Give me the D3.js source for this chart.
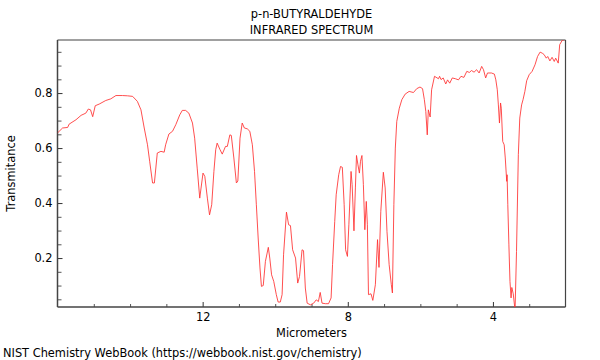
<!DOCTYPE html>
<html>
<head>
<meta charset="utf-8">
<script src="https://cdn.jsdelivr.net/npm/d3@7"></script>
<style>
  body { margin: 0; background: #fff; }
  text { font-family: "DejaVu Sans", sans-serif; fill: #000; }
</style>
</head>
<body>
<script>
// spectrum: wavelength (micrometers) and transmitance
var microns = [16.0, 15.86, 15.72, 15.68, 15.49, 15.35, 15.22, 15.15, 15.09, 15.03, 14.96, 14.85, 14.67, 14.53, 14.39, 14.21, 14.07, 13.93, 13.80, 13.70,
  13.61, 13.52, 13.46, 13.38, 13.33, 13.25, 13.15, 13.06, 13.02, 12.93, 12.83, 12.74, 12.63, 12.56, 12.47, 12.38, 12.28, 12.22, 12.15, 12.08,
  11.99, 11.94, 11.87, 11.81, 11.75, 11.69, 11.64, 11.60, 11.52, 11.46, 11.37, 11.32, 11.25, 11.21, 11.14, 11.07, 11.03, 10.97, 10.91, 10.85,
  10.77, 10.70, 10.63, 10.57, 10.52, 10.47, 10.42, 10.38, 10.33, 10.27, 10.19, 10.15, 10.10, 10.04, 9.97, 9.92, 9.86, 9.81, 9.77, 9.69,
  9.63, 9.58, 9.52, 9.44, 9.38, 9.33, 9.26, 9.22, 9.17, 9.12, 9.03, 8.94, 8.87, 8.81, 8.76, 8.71, 8.62, 8.53, 8.46, 8.42,
  8.36, 8.32, 8.25, 8.20, 8.15, 8.10, 8.06, 8.01, 7.97, 7.91, 7.88, 7.83, 7.79, 7.76, 7.72, 7.68, 7.65, 7.61, 7.57, 7.53,
  7.49, 7.46, 7.43, 7.36, 7.31, 7.24, 7.18, 7.14, 7.09, 7.02, 6.97, 6.92, 6.86, 6.80, 6.77, 6.73, 6.69, 6.65, 6.58, 6.51,
  6.42, 6.31, 6.19, 6.10, 6.01, 5.94, 5.89, 5.85, 5.81, 5.78, 5.73, 5.69, 5.61, 5.50, 5.47, 5.43, 5.37, 5.30, 5.25, 5.19,
  5.12, 5.03, 4.95, 4.88, 4.80, 4.72, 4.65, 4.59, 4.52, 4.45, 4.38, 4.31, 4.26, 4.20, 4.15, 4.04, 3.96, 3.92, 3.88, 3.85,
  3.82, 3.79, 3.77, 3.73, 3.69, 3.66, 3.62, 3.61, 3.59, 3.56, 3.53, 3.50, 3.48, 3.44, 3.39, 3.35, 3.30, 3.26, 3.21, 3.17,
  3.12, 3.07, 3.00, 2.92, 2.84, 2.77, 2.70, 2.64, 2.59, 2.53, 2.49, 2.43, 2.37, 2.31, 2.27, 2.20, 2.16, 2.09, 2.02];
var transmitance = [0.655, 0.673, 0.675, 0.687, 0.703, 0.719, 0.727, 0.742, 0.739, 0.714, 0.754, 0.760, 0.773, 0.779, 0.791, 0.791, 0.790, 0.788, 0.770, 0.739,
  0.673, 0.612, 0.552, 0.473, 0.473, 0.582, 0.588, 0.585, 0.612, 0.651, 0.661, 0.685, 0.721, 0.737, 0.737, 0.727, 0.691, 0.636, 0.527, 0.418,
  0.509, 0.497, 0.418, 0.357, 0.394, 0.515, 0.594, 0.618, 0.594, 0.578, 0.606, 0.606, 0.648, 0.646, 0.564, 0.473, 0.480, 0.636, 0.691, 0.673,
  0.670, 0.661, 0.612, 0.515, 0.394, 0.273, 0.164, 0.097, 0.100, 0.188, 0.239, 0.200, 0.139, 0.115, 0.067, 0.040, 0.040, 0.067, 0.212, 0.367,
  0.321, 0.318, 0.230, 0.200, 0.109, 0.133, 0.230, 0.227, 0.091, 0.036, 0.030, 0.036, 0.048, 0.042, 0.075, 0.036, 0.034, 0.034, 0.055, 0.176,
  0.333, 0.430, 0.503, 0.533, 0.530, 0.394, 0.230, 0.206, 0.321, 0.515, 0.467, 0.299, 0.455, 0.573, 0.539, 0.509, 0.552, 0.573, 0.467, 0.303,
  0.406, 0.321, 0.067, 0.070, 0.046, 0.103, 0.267, 0.166, 0.370, 0.512, 0.455, 0.297, 0.176, 0.103, 0.073, 0.394, 0.600, 0.697, 0.745, 0.776,
  0.796, 0.806, 0.802, 0.816, 0.822, 0.816, 0.776, 0.733, 0.648, 0.739, 0.713, 0.812, 0.861, 0.852, 0.861, 0.849, 0.855, 0.833, 0.848, 0.836,
  0.855, 0.852, 0.848, 0.861, 0.857, 0.879, 0.875, 0.882, 0.876, 0.885, 0.873, 0.897, 0.885, 0.855, 0.873, 0.873, 0.869, 0.848, 0.812, 0.757,
  0.691, 0.764, 0.745, 0.624, 0.612, 0.564, 0.479, 0.503, 0.394, 0.248, 0.115, 0.055, 0.093, 0.070, 0.010, 0.224, 0.576, 0.709, 0.757, 0.776,
  0.806, 0.845, 0.867, 0.879, 0.903, 0.933, 0.949, 0.945, 0.940, 0.927, 0.933, 0.917, 0.930, 0.915, 0.927, 0.909, 0.976, 0.992, 0.994];

var xTicks = [12, 8, 4];
var yTicks = [0.2, 0.4, 0.6, 0.8];
var titleLines = ["p-n-BUTYRALDEHYDE", "INFRARED SPECTRUM"];

var svgWidth = 600, svgHeight = 360;
var margin = { top: 40, right: 34.5, bottom: 53, left: 57.5 };
var chartWidth = svgWidth - margin.left - margin.right;
var chartHeight = svgHeight - margin.top - margin.bottom;
var fontSize = "11.4px";

var svg = d3.select("body").append("svg")
  .attr("width", svgWidth)
  .attr("height", svgHeight);

var chartGroup = svg.append("g")
  .attr("transform", `translate(${margin.left}, ${margin.top})`);

var x = d3.scaleLinear().domain([16, 2]).range([0, chartWidth]);
var y = d3.scaleLinear().domain([0.022, 0.993]).range([chartHeight, 0]);

chartGroup.append("clipPath").attr("id", "plotclip")
  .append("rect").attr("width", chartWidth).attr("height", chartHeight);

// minor ticks, pointing into the plot
var xMinor = d3.range(3, 16, 1).filter(function (d) { return xTicks.indexOf(d) < 0; });
var yMinor = d3.range(0.05, 0.99, 0.05).filter(function (d) {
  return yTicks.every(function (t) { return Math.abs(t - d) > 1e-6; });
});

chartGroup.append("g")
  .attr("transform", `translate(0, ${chartHeight})`)
  .call(d3.axisBottom(x).tickValues(xMinor).tickSize(-3).tickFormat(""))
  .call(function (g) { g.select(".domain").remove(); })
  .selectAll("line").attr("stroke", "#555");

chartGroup.append("g")
  .call(d3.axisLeft(y).tickValues(yMinor).tickSize(-4).tickFormat(""))
  .call(function (g) { g.select(".domain").remove(); })
  .selectAll("line").attr("stroke", "#555");

// major ticks with labels
var xAxis = chartGroup.append("g")
  .attr("transform", `translate(0, ${chartHeight})`)
  .call(d3.axisBottom(x).tickValues(xTicks).tickSizeInner(-5).tickSizeOuter(0).tickPadding(6).tickFormat(d3.format("d")));
xAxis.select(".domain").remove();
xAxis.selectAll("line").attr("stroke", "#333");
xAxis.selectAll("text").style("font-size", fontSize);

var yAxis = chartGroup.append("g")
  .call(d3.axisLeft(y).tickValues(yTicks).tickSizeInner(-5).tickSizeOuter(0).tickPadding(5).tickFormat(d3.format(".1f")));
yAxis.select(".domain").remove();
yAxis.selectAll("line").attr("stroke", "#333");
yAxis.selectAll("text").style("font-size", fontSize);

// frame: light top, dark sides and bottom
chartGroup.append("line").attr("x1", 0).attr("x2", chartWidth).attr("y1", 0).attr("y2", 0)
  .attr("stroke", "#a0a0a0").attr("stroke-width", 2);
chartGroup.append("line").attr("x1", 0).attr("x2", 0).attr("y1", 0).attr("y2", chartHeight)
  .attr("stroke", "#444").attr("stroke-width", 1.5);
chartGroup.append("line").attr("x1", chartWidth).attr("x2", chartWidth).attr("y1", 0).attr("y2", chartHeight)
  .attr("stroke", "#444").attr("stroke-width", 1.2);
chartGroup.append("line").attr("x1", 0).attr("x2", chartWidth).attr("y1", chartHeight).attr("y2", chartHeight)
  .attr("stroke", "#444").attr("stroke-width", 1.5);

var points = microns.map(function (m, i) { return [m, transmitance[i]]; });

chartGroup.append("path")
  .datum(points)
  .attr("clip-path", "url(#plotclip)")
  .attr("fill", "none")
  .attr("stroke", "#ff3030")
  .attr("stroke-opacity", 0.85)
  .attr("stroke-width", 1)
  .attr("d", d3.line()
    .x(function (d) { return x(d[0]); })
    .y(function (d) { return y(d[1]); }));

// titles and labels
svg.selectAll(".title")
  .data(titleLines)
  .enter()
  .append("text")
    .attr("class", "title")
    .attr("x", margin.left + chartWidth / 2)
    .attr("y", function (d, i) { return 17.5 + i * 16.5; })
    .attr("text-anchor", "middle")
    .style("font-size", fontSize)
    .text(function (d) { return d; });

svg.append("text")
  .attr("x", margin.left + chartWidth / 2)
  .attr("y", 337)
  .attr("text-anchor", "middle")
  .style("font-size", fontSize)
  .text("Micrometers");

svg.append("text")
  .attr("transform", `translate(14.5, ${margin.top + chartHeight / 2}) rotate(-90)`)
  .attr("text-anchor", "middle")
  .style("font-size", fontSize)
  .text("Transmitance");

svg.append("text")
  .attr("x", 3)
  .attr("y", 357)
  .style("font-size", fontSize)
  .text("NIST Chemistry WebBook (https://webbook.nist.gov/chemistry)");
</script>
</body>
</html>
